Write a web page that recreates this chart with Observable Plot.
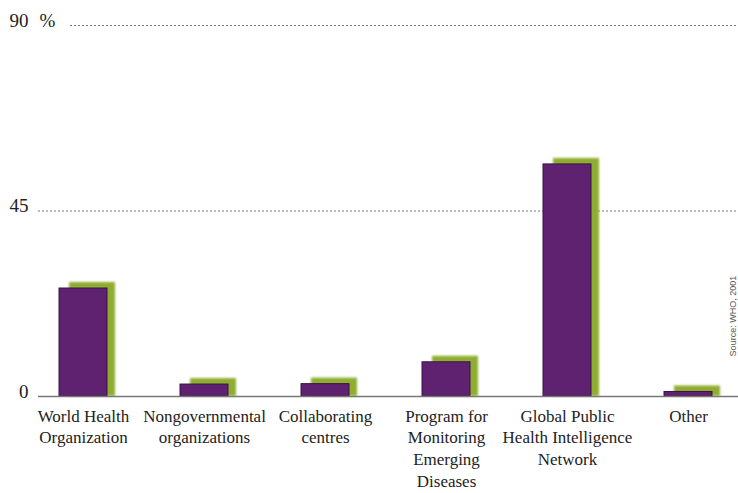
<!DOCTYPE html>
<html>
<head>
<meta charset="utf-8">
<script src="https://cdn.jsdelivr.net/npm/d3@7"></script>
<script src="https://cdn.jsdelivr.net/npm/@observablehq/plot@0.6"></script>
<style>
  html, body { margin: 0; padding: 0; background: #fff; }
  #chart svg { display: block; }
</style>
</head>
<body>
<div id="chart"></div>
<script>
const categories = ["WHO", "NGO", "Collaborating", "ProMED", "GPHIN", "Other"];
const tickLabels = [
  "World Health\nOrganization",
  "Nongovernmental\norganizations",
  "Collaborating\ncentres",
  "Program for\nMonitoring\nEmerging\nDiseases",
  "Global Public\nHealth Intelligence\nNetwork",
  "Other"
];
const values = [26.2, 2.9, 3.0, 8.3, 56.3, 1.1];
const yTicks = [0, 45, 90];
const sourceText = "Source: WHO, 2001";

const data = categories.map((c, i) => ({category: c, value: values[i]}));
const labelOf = new Map(categories.map((c, i) => [c, tickLabels[i]]));

const serifStack = "'Liberation Serif', 'Times New Roman', 'DejaVu Serif', serif";

const plot = Plot.plot({
  width: 738,
  height: 493,
  marginTop: 25,
  marginBottom: 97,
  marginLeft: 38,
  marginRight: 0,
  style: {fontSize: "18px", color: "#222", background: "#fff"},
  x: {domain: categories, paddingInner: 0.6, paddingOuter: 0.19, align: 0.45, label: null},
  y: {domain: [0, 90], label: null},
  marks: [
    Plot.ruleY(yTicks.filter(d => d > 0 && d < 90), {stroke: "#777", strokeDasharray: "2,2", strokeWidth: 1}),
    Plot.ruleY(yTicks.filter(d => d === 90), {stroke: "#777", strokeDasharray: "2,2", strokeWidth: 1, insetLeft: 32}),
    Plot.barY(data, {x: "category", y: "value", fill: "#8fae30", dx: 8, insetLeft: 2, insetTop: -6, imageFilter: "blur(1.2px)"}),
    Plot.barY(data, {x: "category", y: "value", fill: "#5f2270", stroke: "#3b1248", strokeWidth: 1}),
    Plot.ruleY([0], {stroke: "#777", strokeWidth: 1.5}),
    Plot.axisY({ticks: yTicks, tickSize: 0, tickPadding: 10, dy: -5, fontSize: 19, fill: "#222", label: null}),
    Plot.text([90], {y: d => d, frameAnchor: "left", textAnchor: "start", dx: 1, dy: -5, text: () => "%", fontSize: 19, fill: "#222"}),
    Plot.axisX({tickSize: 0, tickPadding: 10, fontSize: 17, lineHeight: 1.27, lineAnchor: "top", fill: "#222", tickFormat: d => labelOf.get(d), label: null}),
    Plot.text([sourceText], {y: () => 19.5, frameAnchor: "right", dx: -5, rotate: -90, textAnchor: "middle", fontSize: 9, fill: "#555"})
  ]
});
document.getElementById("chart").appendChild(plot);
d3.select(plot).selectAll("text").each(function () {
  const isSource = this.textContent === sourceText;
  this.style.setProperty("font-family", isSource ? "'Liberation Sans', Arial, sans-serif" : serifStack, "important");
});
</script>
</body>
</html>
